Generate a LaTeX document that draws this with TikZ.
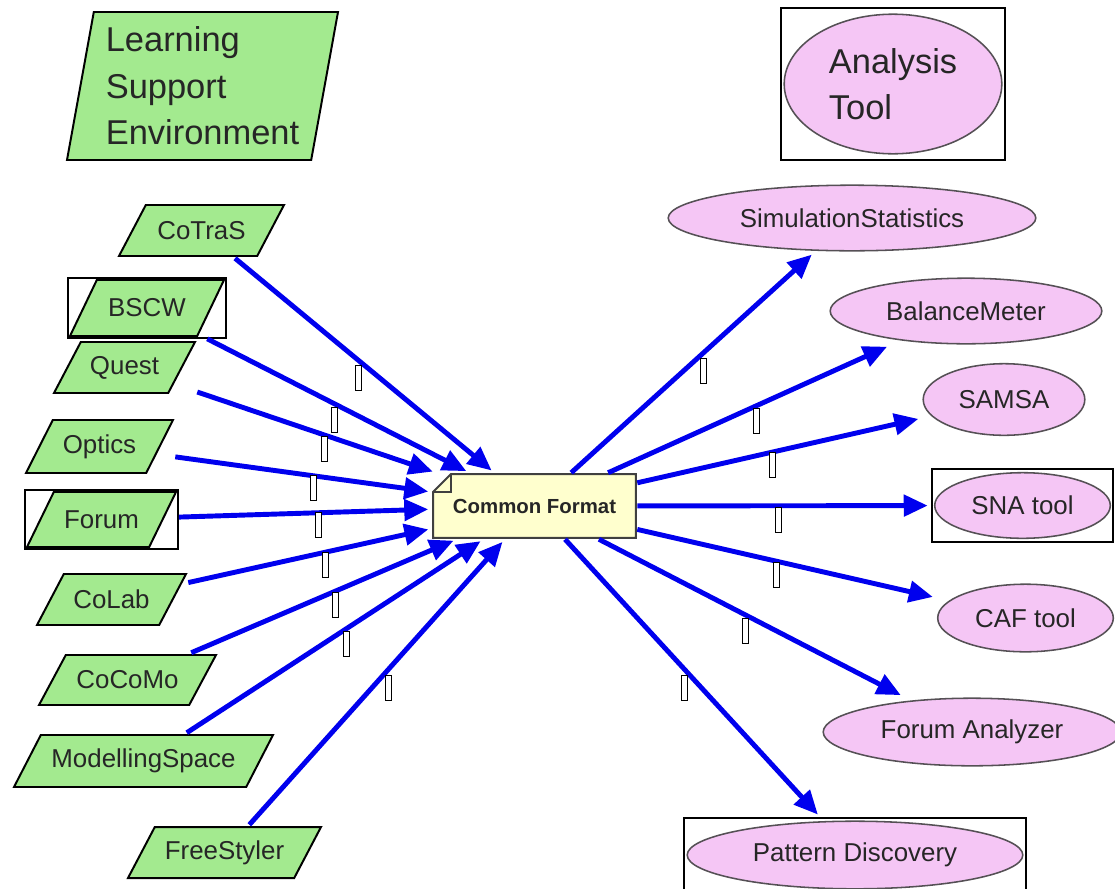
\documentclass[tikz,border=0pt]{standalone}
\usepackage{fontspec}
\setmainfont{Liberation Sans}
\usetikzlibrary{arrows.meta}
\definecolor{lsegreen}{RGB}{163,234,143}
\definecolor{atpink}{RGB}{245,198,245}
\definecolor{cfyellow}{RGB}{255,255,206}
\definecolor{txtgray}{RGB}{38,38,38}
\definecolor{ellgray}{RGB}{85,80,85}
\definecolor{arrowblue}{RGB}{0,0,238}
\tikzset{
  lbl/.style={font=\fontsize{18.4}{22}\selectfont, text=txtgray},
  biglbl/.style={font=\fontsize{24.5}{33}\selectfont, text=txtgray, align=left},
  frame/.style={draw=black, line width=1.2pt},
  paral/.style 2 args={rectangle, inner sep=0pt, lbl,
    minimum width=#1*0.025cm, minimum height=#2*0.025cm,
    path picture={\draw[fill=lsegreen, draw=black, line width=1.4pt, line join=miter]
      ([shift={(0.72cm,-0.05cm)}]path picture bounding box.north west) --
      ([shift={(-0.05cm,-0.05cm)}]path picture bounding box.north east) --
      ([shift={(-0.72cm,0.05cm)}]path picture bounding box.south east) --
      ([shift={(0.05cm,0.05cm)}]path picture bounding box.south west) -- cycle;}},
  ell/.style n args={4}{rectangle, inner sep=0pt, lbl,
    minimum width=#1*0.025cm, minimum height=#2*0.025cm,
    path picture={\draw[fill=atpink, draw=ellgray, line width=1.1pt]
      (path picture bounding box.center) ellipse [x radius=#3*0.025cm-0.03cm, y radius=#4*0.025cm-0.03cm];}},
  note/.style 2 args={rectangle, inner sep=0pt,
    minimum width=#1*0.025cm, minimum height=#2*0.025cm,
    font=\fontsize{14.5}{17}\selectfont\bfseries, text=txtgray,
    path picture={
      \draw[fill=cfyellow, draw=black!75, line width=1.4pt, line join=miter]
        ([shift={(0.03cm,-0.47cm)}]path picture bounding box.north west) --
        ([shift={(0.47cm,-0.03cm)}]path picture bounding box.north west) --
        ([shift={(-0.03cm,-0.03cm)}]path picture bounding box.north east) --
        ([shift={(-0.03cm,0.03cm)}]path picture bounding box.south east) --
        ([shift={(0.03cm,0.03cm)}]path picture bounding box.south west) -- cycle;
      \draw[draw=black!75, line width=1.1pt]
        ([shift={(0.03cm,-0.47cm)}]path picture bounding box.north west) --
        ([shift={(0.47cm,-0.47cm)}]path picture bounding box.north west) --
        ([shift={(0.47cm,-0.03cm)}]path picture bounding box.north west);}},
  arr/.style={draw=arrowblue, fill=arrowblue, line width=3.5pt,
    -{Triangle[length=17pt, width=15pt]}, shorten >=2.5pt},
  lblbox/.style={draw=black, fill=white, line width=0.6pt, inner sep=0pt,
    minimum width=0.15cm, minimum height=0.625cm},
}
\begin{document}
\begin{tikzpicture}[x=0.025cm, y=-0.025cm]
\useasboundingbox[fill=white] (0,0) rectangle (1115,888);

% legend shapes
\node[paral={275}{152}, biglbl] (lse) at (202.5,86) {Learning\\Support\\Environment};
\node[ell={224}{152}{110}{71}, frame, biglbl] (at) at (893,84) {Analysis\\Tool};

% learning support environments
\node[paral={169}{55}] (cotras) at (201.5,230.5) {CoTraS};
\node[paral={158}{60}, frame] (bscw) at (147,308) {BSCW};
\node[paral={145}{55}] (quest) at (124.5,367.5) {Quest};
\node[paral={151}{57}] (optics) at (99.5,446.5) {Optics};
\node[paral={153}{59}, frame] (forum) at (101.5,519.5) {Forum};
\node[paral={153}{55}] (colab) at (111.5,599.5) {CoLab};
\node[paral={181}{54}] (cocomo) at (127.5,680) {CoCoMo};
\node[paral={263}{56}] (modelling) at (143.5,761) {ModellingSpace};
\node[paral={197}{55}] (freestyler) at (224.5,852.5) {FreeStyler};

% common format
\node[note={205}{66}] (cf) at (534.5,506) {Common Format};

% analysis tools
\node[ell={370}{68}{185}{34}] (sim) at (852,218) {SimulationStatistics};
\node[ell={274}{68}{137}{34}] (bal) at (966,311) {BalanceMeter};
\node[ell={164}{74}{82}{37}] (samsa) at (1004,399.5) {SAMSA};
\node[ell={181}{73}{89}{34}, frame] (sna) at (1022.5,505.5) {SNA tool};
\node[ell={178}{70}{89}{35}] (caf) at (1025.5,618) {CAF tool};
\node[ell={300}{70}{150}{35}] (fa) at (972,732) {Forum Analyzer};
\node[ell={342}{74}{169}{35}, frame] (pd) at (855,855) {Pattern Discovery};

% connectors
\foreach \s in {cotras,bscw,quest,optics,forum,colab,cocomo,modelling,freestyler}
  \draw[arr] (\s) -- (cf);
\foreach \t in {sim,bal,samsa,sna,caf,fa,pd}
  \draw[arr] (cf) -- (\t);

% empty edge labels
\node[lblbox] (l1) at (358,378) {};
\node[lblbox] (l2) at (334.5,419.5) {};
\node[lblbox] (l3) at (324,448.5) {};
\node[lblbox] (l4) at (313.5,488) {};
\node[lblbox] (l5) at (318,525) {};
\node[lblbox] (l6) at (325.5,565) {};
\node[lblbox] (l7) at (335.5,604.5) {};
\node[lblbox] (l8) at (346,644) {};
\node[lblbox] (l9) at (388,688) {};
\node[lblbox] (r1) at (703,370.5) {};
\node[lblbox] (r2) at (756,420.5) {};
\node[lblbox] (r3) at (772,465) {};
\node[lblbox] (r4) at (778,520) {};
\node[lblbox] (r5) at (776,575) {};
\node[lblbox] (r6) at (745,631) {};
\node[lblbox] (r7) at (684,688) {};
\end{tikzpicture}
\end{document}
